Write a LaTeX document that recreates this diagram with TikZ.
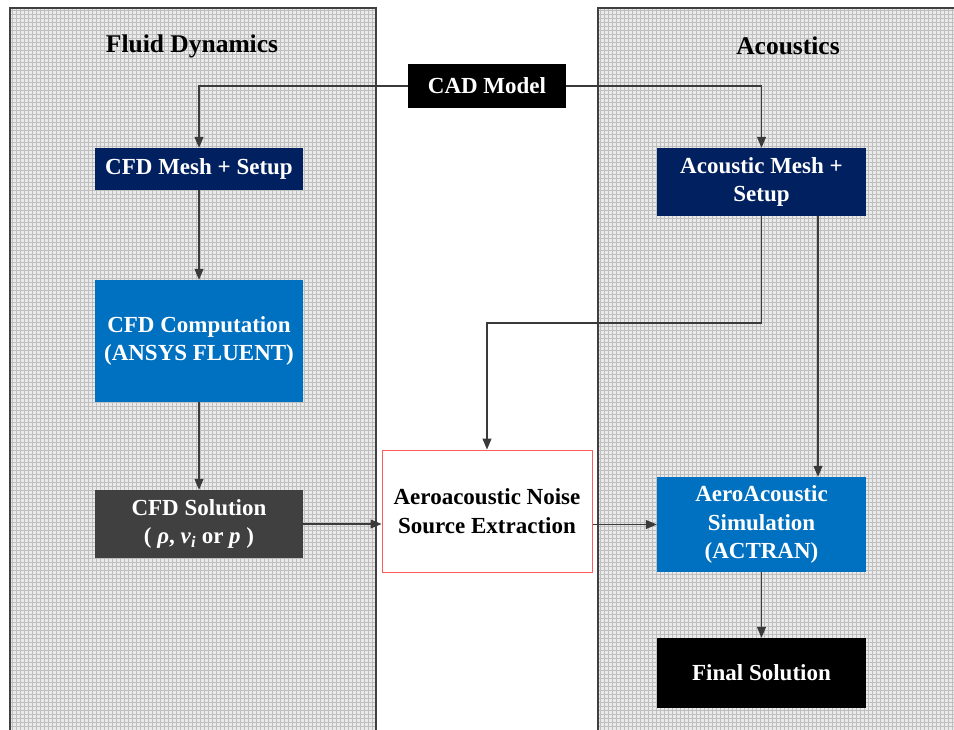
\documentclass[tikz,border=0pt]{standalone}
\usepackage{fontspec}
\setmainfont{Liberation Serif}
\usetikzlibrary{arrows.meta}
\definecolor{navy}{HTML}{002060}
\definecolor{midblue}{HTML}{0070C0}
\definecolor{darkbox}{HTML}{404040}
\definecolor{redline}{HTML}{FF5B5B}
\definecolor{panelfill}{HTML}{EAEAEA}
\definecolor{panelgrid}{HTML}{BEBEBE}
\definecolor{linecol}{HTML}{3A3A3A}
\begin{document}
\begin{tikzpicture}[x=1pt,y=-1pt,
  box/.style={draw=none, text=white, font=\fontsize{23}{28.5}\selectfont\bfseries, align=center, inner sep=0pt},
  paneltitle/.style={font=\fontsize{25.5}{30}\selectfont\bfseries, text=black, inner sep=0pt},
  conn/.style={draw=linecol, line width=1.1pt, -{Triangle[length=11pt,width=9pt]}},
  gridln/.style={panelgrid, line width=0.9pt},
  panelborder/.style={draw=darkbox, line width=1.3pt},
]
\useasboundingbox (0,0) rectangle (954,729);
\fill[white] (0,0) rectangle (954,729);
\begin{scope}
\clip (0,0) rectangle (954,729);
% left panel
\fill[panelfill] (10,8) rectangle (376,735);
\foreach \x in {12,16,...,376} \draw[gridln] (\x,8) -- (\x,735);
\foreach \y in {10,14,...,730} \draw[gridln] (10,\y) -- (376,\y);
\draw[panelborder] (10,735) -- (10,8) -- (376,8) -- (376,735);
% right panel
\fill[panelfill] (598,8) rectangle (960,735);
\foreach \x in {600,604,...,956} \draw[gridln] (\x,8) -- (\x,735);
\foreach \y in {10,14,...,730} \draw[gridln] (598,\y) -- (960,\y);
\draw[panelborder] (598,735) -- (598,8) -- (960,8);
\end{scope}

\node[paneltitle] (tfluid) at (192,46) {Fluid Dynamics};
\node[paneltitle] (tacou) at (788,46) {Acoustics};

\node[box, fill=black, minimum width=158pt, minimum height=44pt] (cad) at (487,86) {CAD Model};
\node[box, fill=navy, minimum width=208pt, minimum height=42pt] (cfdmesh) at (199,169) {CFD Mesh + Setup};
\node[box, fill=midblue, minimum width=208pt, minimum height=122pt] (cfdcomp) at (199,341) {CFD Computation\\(ANSYS FLUENT)};
\node[box, fill=darkbox, minimum width=208pt, minimum height=68pt] (cfdsol) at (199,524) {CFD Solution\\( \textit{ρ}, \textit{v}\textsubscript{\textit{i}} or \textit{p} )};
\node[box, fill=white, draw=redline, line width=1pt, text=black, minimum width=210pt, minimum height=122pt] (aero) at (487,511) {Aeroacoustic Noise\\Source Extraction};
\node[box, fill=navy, minimum width=209pt, minimum height=68pt] (acmesh) at (761.5,182) {Acoustic Mesh +\\Setup};
\node[box, fill=midblue, minimum width=209pt, minimum height=95pt] (sim) at (761.5,524.5) {AeroAcoustic\\Simulation\\(ACTRAN)};
\node[box, fill=black, minimum width=209pt, minimum height=70pt] (final) at (761.5,673) {Final Solution};

\coordinate (bend) at (487,323);
\coordinate (s1) at ([xshift=56.5pt]acmesh.south);

\draw[conn] (cad.west) -| (cfdmesh.north);
\draw[conn] (cad.east) -| (acmesh.north);
\draw[conn] (cfdmesh.south) -- (cfdcomp.north);
\draw[conn] (cfdcomp.south) -- (cfdsol.north);
\draw[conn] (cfdsol.east) -- (cfdsol.east -| aero.west);
\draw[conn] (acmesh.south) |- (bend) -- (aero.north);
\draw[conn] (s1) -- (s1 |- sim.north);
\draw[conn] (sim.west -| aero.east) -- (sim.west);
\draw[conn] (sim.south) -- (final.north);
\end{tikzpicture}
\end{document}
